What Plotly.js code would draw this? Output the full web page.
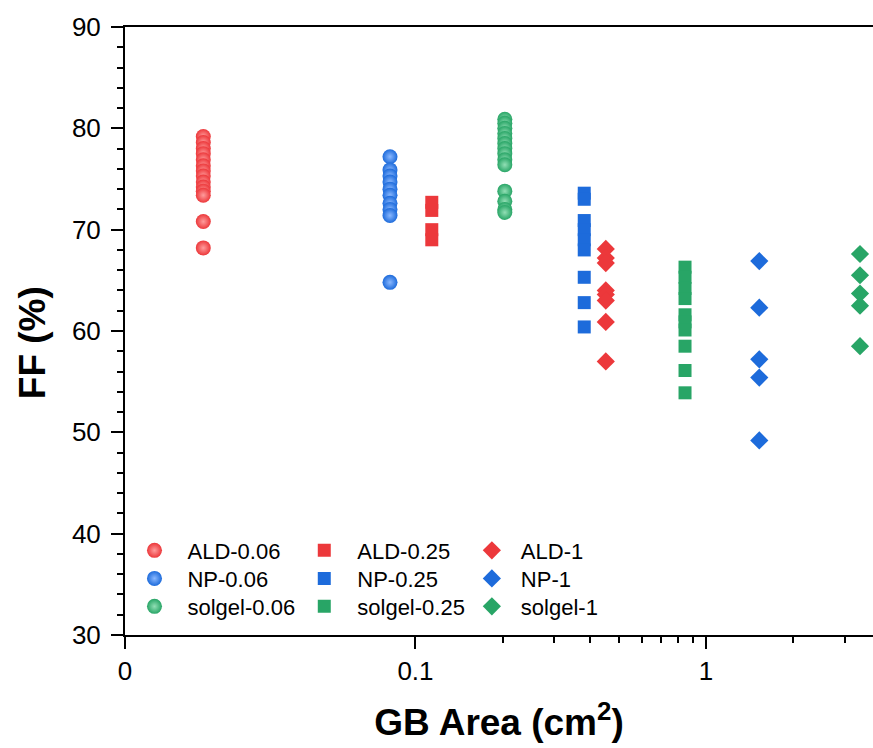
<!DOCTYPE html>
<html>
<head>
<meta charset="utf-8">
<script src="https://cdn.plot.ly/plotly-3.0.1.min.js"></script>
<style>
  html, body { margin: 0; padding: 0; background: #fff; }
  #chart { width: 873px; height: 748px; }
</style>
</head>
<body>
<div id="chart"></div>
<script>
// ---- data ----
const seriesNames = ["ALD-0.06", "NP-0.06", "solgel-0.06",
                     "ALD-0.25", "NP-0.25", "solgel-0.25",
                     "ALD-1", "NP-1", "solgel-1"];

// GB area (cm^2) of each group
const gbArea = {
  "ALD-0.06": 0.0186, "NP-0.06": 0.0817, "solgel-0.06": 0.203,
  "ALD-0.25": 0.1138, "NP-0.25": 0.381, "solgel-0.25": 0.847,
  "ALD-1": 0.452, "NP-1": 1.526, "solgel-1": 3.39
};

// FF (%) values
const ffALD006 = [79.2, 78.6, 78.0, 77.5, 76.9, 76.3, 75.8, 75.3, 74.7, 74.2, 73.8, 73.4, 70.8, 68.2];
const ffNP006 = [77.2, 75.9, 75.3, 74.7, 74.0, 73.4, 72.6, 72.0, 71.4, 64.8];
const ffSolgel006 = [80.9, 80.5, 80.0, 79.5, 79.0, 78.5, 78.0, 77.5, 76.9, 76.4, 73.8, 72.8, 72.0, 71.7];
const ffALD025 = [72.7, 71.9, 70.0, 69.0];
const ffNP025 = [73.6, 73.0, 70.9, 70.0, 69.0, 68.0, 65.3, 62.8, 60.4];
const ffSolgel025 = [66.3, 65.3, 64.2, 63.2, 61.6, 60.9, 60.1, 58.5, 56.1, 53.9];
const ffALD1 = [68.1, 67.2, 66.7, 64.0, 63.6, 63.0, 60.9, 57.0];
const ffNP1 = [66.9, 62.3, 57.2, 55.4, 49.2];
const ffSolgel1 = [67.6, 65.5, 63.7, 62.5, 58.5];

const ffValues = {
  "ALD-0.06": ffALD006, "NP-0.06": ffNP006, "solgel-0.06": ffSolgel006,
  "ALD-0.25": ffALD025, "NP-0.25": ffNP025, "solgel-0.25": ffSolgel025,
  "ALD-1": ffALD1, "NP-1": ffNP1, "solgel-1": ffSolgel1
};

const xTickVals = [0.01, 0.1, 1];
const xTickText = ["0", "0.1", "1"];
const xMinorVals = [0.2, 0.3, 0.4, 0.5, 0.6, 0.7, 0.8, 0.9, 2, 3];

// ---- styles ----
const colors = { ALD: "#ec383b", NP: "#1d6bdb", solgel: "#28a566" };
const tints  = { ALD: "#ff9c9c", NP: "#8ab8ff", solgel: "#92dfb5" };
const symbolOf = { "0.06": "circle", "0.25": "square", "1": "diamond" };
const sizeOf = { "0.06": 15, "0.25": 13, "1": 14 };
const colIndex = { "0.06": 0, "0.25": 1, "1": 2 };
const rowIndex = { ALD: 0, NP: 1, solgel: 2 };

const FONT = "Liberation Sans, Arial, sans-serif";
const legendColX = [-0.0047, 0.2223, 0.4517];
const legendColItemW = [56, 56, 48];
const legendRowY = [0.1734, 0.1273, 0.0813];

const layout = {
  width: 873,
  height: 748,
  margin: { l: 125, r: 0, t: 27, b: 113 },
  paper_bgcolor: "#fff",
  plot_bgcolor: "#fff",
  showlegend: true,
  font: { family: FONT, color: "#000" },
  xaxis: {
    type: "log",
    range: [-2, 0.575],
    tickmode: "array",
    tickvals: xTickVals,
    ticktext: xTickText,
    ticks: "outside",
    ticklen: 12,
    tickwidth: 2,
    tickcolor: "#000",
    showline: true,
    linewidth: 2,
    linecolor: "#000",
    mirror: true,
    showgrid: false,
    zeroline: false,
    tickfont: { family: FONT, size: 26, color: "#000" },
    minor: { tickmode: "array", tickvals: xMinorVals, ticks: "outside", ticklen: 6, tickwidth: 2, tickcolor: "#000", showgrid: false },
    title: { text: "GB Area (cm<sup>2</sup>)", font: { family: FONT, size: 37, color: "#000", weight: "bold" }, standoff: 24 }
  },
  yaxis: {
    range: [30, 90],
    dtick: 10,
    tick0: 30,
    ticks: "outside",
    ticklen: 12,
    tickwidth: 2,
    tickcolor: "#000",
    ticklabelstandoff: 5,
    showline: true,
    linewidth: 2,
    linecolor: "#000",
    showgrid: false,
    zeroline: false,
    tickfont: { family: FONT, size: 26, color: "#000" },
    minor: { dtick: 2, ticks: "outside", ticklen: 6, tickwidth: 2, tickcolor: "#000", showgrid: false }
  },
  annotations: [{
    text: "FF (%)",
    textangle: -90,
    xref: "paper", yref: "paper",
    x: -0.1243, y: 0.48,
    xanchor: "center", yanchor: "middle",
    showarrow: false,
    font: { family: FONT, size: 37, color: "#000", weight: "bold" }
  }]
};

const traces = seriesNames.map((name, i) => {
  const [mat, grp] = name.split("-");
  const ys = ffValues[name];
  const marker = {
    symbol: symbolOf[grp],
    size: sizeOf[grp],
    color: colors[mat],
    line: { width: 0 }
  };
  if (grp === "0.06") marker.gradient = { type: "radial", color: tints[mat] };
  const legendKey = i === 0 ? "legend" : "legend" + (i + 1);
  layout[legendKey] = {
    bgcolor: "rgba(0,0,0,0)",
    borderwidth: 0,
    font: { family: FONT, size: 22, color: "#000" },
    itemwidth: legendColItemW[colIndex[grp]],
    xanchor: "left",
    yanchor: "top",
    x: legendColX[colIndex[grp]],
    y: legendRowY[rowIndex[mat]]
  };
  return {
    type: "scatter",
    mode: "markers",
    name: name,
    x: ys.map(() => gbArea[name]),
    y: ys,
    marker: marker,
    legend: legendKey,
    hoverinfo: "x+y+name"
  };
});

Plotly.newPlot("chart", traces, layout, { displayModeBar: false, staticPlot: true });
</script>
</body>
</html>
